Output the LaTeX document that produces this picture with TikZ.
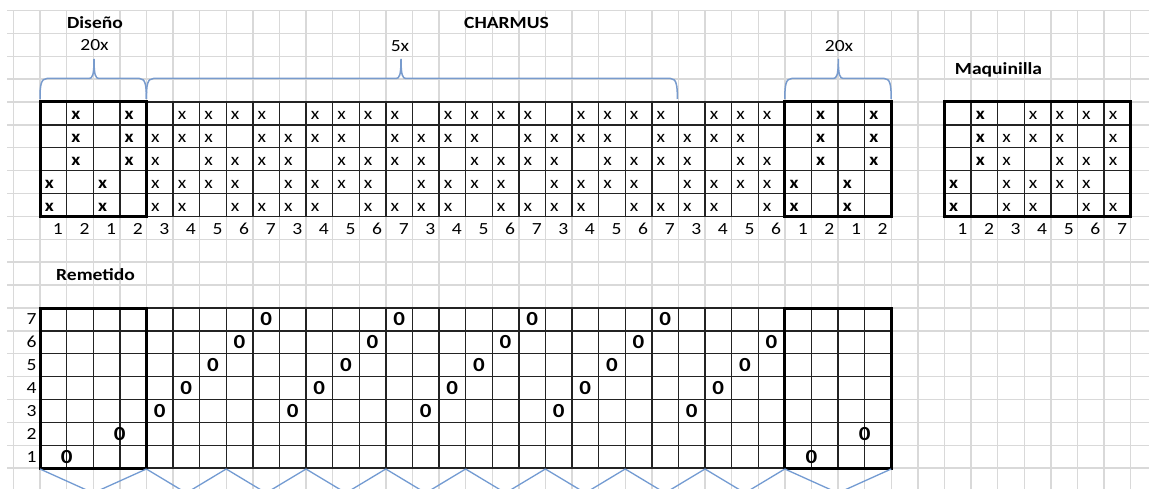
\documentclass[tikz,border=0pt]{standalone}
\usepackage{fontspec}
\setmainfont[FakeStretch=1.15]{Carlito}
\definecolor{bggrid}{RGB}{217,217,217}
\definecolor{cellline}{RGB}{35,35,35}
\definecolor{bracecol}{RGB}{120,155,205}
\definecolor{zigcol}{RGB}{115,155,210}
\newcommand\rowsof[1]{\ifcase#1\or 4,5\or 1,2,3\or 2,3,4,5\or 1,2,4,5\or 1,2,3,4\or 1,3,4,5\or 1,2,3,5\fi}
\newcommand\mybrace[3]{%
  \draw[bracestyle] (#1,99) .. controls (#1,85) and (#1+1,78.5) .. (#1+7,78.5) -- (#2-5,78.5)
    .. controls (#2-1.5,78.5) and (#2,75) .. (#2,59)
    .. controls (#2,75) and (#2+1.5,78.5) .. (#2+5,78.5) -- (#3-7,78.5)
    .. controls (#3-1,78.5) and (#3,85) .. (#3,99);}
\tikzset{
  bgline/.style={draw=bggrid,line width=1.4pt},
  gl/.style={draw=cellline,line width=1.4pt},
  thickb/.style={draw=black,line width=3pt},
  bracestyle/.style={draw=bracecol,line width=1.5pt},
  zig/.style={draw=zigcol,line width=1.3pt},
  xm/.style={anchor=base,inner sep=0pt,font=\fontsize{17}{20}\selectfont},
  xmb/.style={anchor=base,inner sep=0pt,font=\fontsize{17}{20}\selectfont\bfseries},
  num/.style={anchor=base east,inner sep=0pt,font=\fontsize{17}{20}\selectfont},
  rowlab/.style={anchor=base,inner sep=0pt,font=\fontsize{17}{20}\selectfont},
  omark/.style={anchor=base,inner sep=0pt,font=\fontsize{20}{24}\selectfont\bfseries},
  lbl/.style={anchor=base,inner sep=0pt,font=\fontsize{17}{20}\selectfont\bfseries},
  rep/.style={anchor=base,inner sep=0pt,font=\fontsize{17}{20}\selectfont},
}
\begin{document}
\begin{tikzpicture}[x=1pt,y=-1pt]
\useasboundingbox (0,0) rectangle (1149,489);
\fill[white] (0,0) rectangle (1149,489);
% background sheet grid
\foreach \k in {0,...,20} \draw[bgline] (7,{10.5+22.88*\k}) -- (1149,{10.5+22.88*\k});
\foreach \k in {0,...,42} \draw[bgline] ({13.4+26.6*\k},10.5) -- ({13.4+26.6*\k},489);
% white cells
\fill[white] (40,102) rectangle (891.2,216.4);
\fill[white] (944.4,102) rectangle (1130.6,216.4);
\fill[white] (40,308) rectangle (891.2,468.16);
% top grid
\foreach \j in {0,...,32} \draw[gl] ({40+26.6*\j},102) -- ({40+26.6*\j},216.4);
\foreach \r in {0,...,5} \draw[gl] (40,{102+22.88*\r}) -- (891.2,{102+22.88*\r});
% maquinilla grid
\foreach \j in {0,...,7} \draw[gl] ({944.4+26.6*\j},102) -- ({944.4+26.6*\j},216.4);
\foreach \r in {0,...,5} \draw[gl] (944.4,{102+22.88*\r}) -- (1130.6,{102+22.88*\r});
% bottom grid
\foreach \j in {0,...,32} \draw[gl] ({40+26.6*\j},308) -- ({40+26.6*\j},468.16);
\foreach \r in {0,...,7} \draw[gl] (40,{308+22.88*\r}) -- (891.2,{308+22.88*\r});
% thick borders
\draw[thickb] (40,102) rectangle (146.4,216.4);
\draw[thickb] (784.8,102) rectangle (891.2,216.4);
\draw[thickb] (944.4,102) rectangle (1130.6,216.4);
\draw[thickb] (40,308) rectangle (146.4,468.16);
\draw[thickb] (784.8,308) rectangle (891.2,468.16);
% top grid marks and column numbers
\foreach \lab [count=\i from 0] in {1,2,1,2,3,4,5,6,7,3,4,5,6,7,3,4,5,6,7,3,4,5,6,7,3,4,5,6,1,2,1,2} {
  \edef\rl{\rowsof{\lab}}
  \foreach \r in \rl {
    \ifnum\lab<3
      \node[xmb] (m-\i-\r) at ({40+26.6*\i+9.3},{102+22.88*\r-5}) {x};
    \else
      \node[xm] (m-\i-\r) at ({40+26.6*\i+9},{102+22.88*\r-5}) {x};
    \fi
  }
  \node[num] (n-\i) at ({40+26.6*(\i+1)-3.5},235) {\lab};
}
% maquinilla marks and numbers
\foreach \lab [count=\i from 0] in {1,...,7} {
  \edef\rl{\rowsof{\lab}}
  \foreach \r in \rl {
    \ifnum\lab<3
      \node[xmb] (q-\i-\r) at ({944.4+26.6*\i+9.3},{102+22.88*\r-5}) {x};
    \else
      \node[xm] (q-\i-\r) at ({944.4+26.6*\i+9},{102+22.88*\r-5}) {x};
    \fi
  }
  \node[num] (qn-\i) at ({944.4+26.6*(\i+1)-3.5},235) {\lab};
}
% remetido marks
\foreach \lab [count=\i from 4] in {3,4,5,6,7,3,4,5,6,7,3,4,5,6,7,3,4,5,6,7,3,4,5,6} {
  \node[omark] (o-\i) at ({40+26.6*\i+13.3},{468.16-22.88*(\lab-1)-5}) {0};
}
\node[omark] (o-a) at (66.6,463.16) {0};
\node[omark] (o-b) at (119.8,440.28) {0};
\node[omark] (o-c) at (811.4,463.16) {0};
\node[omark] (o-d) at (864.6,440.28) {0};
% row labels
\foreach \r in {1,...,7} \node[rowlab] (r-\r) at (31.5,{468.16-22.88*(\r-1)-6}) {\r};
% titles
\node[lbl] (diseno) at (95,28.3) {Diseño};
\node[lbl] (charmus) at (506.5,28.3) {CHARMUS};
\node[lbl] (maq) at (998.5,75) {Maquinilla};
\node[lbl] (remetido) at (95.5,280) {Remetido};
\node[rep] (rep1) at (94.5,51) {20x};
\node[rep] (rep2) at (400,51.5) {5x};
\node[rep] (rep3) at (839,51.5) {20x};
% braces
\mybrace{40}{94}{146.4}
\mybrace{146.4}{401}{677.4}
\mybrace{784.8}{838.3}{891.2}
% zigzag
\begin{scope}
\clip (0,0) rectangle (1149,489);
\foreach \a/\b in {40/146.4,146.4/226.2,226.2/306,306/385.8,385.8/465.6,465.6/545.4,545.4/625.2,625.2/705,705/784.8,784.8/891.2}
  \draw[zig] (\a,469) -- ({(\a+\b)/2},493) -- (\b,469);
\end{scope}
\end{tikzpicture}
\end{document}
